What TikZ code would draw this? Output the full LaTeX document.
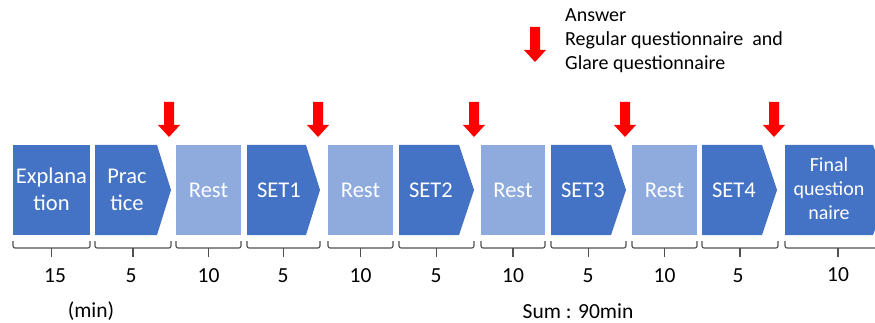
\documentclass[tikz,border=0pt]{standalone}
\usepackage{fontspec}
\setmainfont{Carlito}
\definecolor{dblue}{HTML}{4472C4}
\definecolor{lblue}{HTML}{8FAADC}
\definecolor{brk}{HTML}{505050}
\definecolor{arr}{HTML}{FF0000}
\newcommand{\chevbox}[3]{\fill[dblue] (#1,145) -- (#2,145) -- (#3,190) -- (#2,235) -- (#1,235) -- cycle;}
\newcommand{\restbox}[2]{\fill[lblue] (#1,145) rectangle (#2,235);}
\newcommand{\redarr}[2]{\fill[arr] ({#1-5},#2) -- ({#1+5},#2) -- ({#1+5},{#2+23}) -- ({#1+11},{#2+23}) -- (#1,{#2+35}) -- ({#1-11},{#2+23}) -- ({#1-5},{#2+23}) -- cycle;}
\newcommand{\brkt}[2]{\draw[bracket] (#1,241) -- (#1,248) -- (#2,248) -- (#2,241); \draw[bracket] ({(#1+#2)/2},248) -- ({(#1+#2)/2},257);}
\begin{document}
\begin{tikzpicture}[x=1pt,y=-1pt,
  boxtxt/.style={text=white,font=\fontsize{22.5}{27}\selectfont,align=center,inner sep=0pt},
  numtxt/.style={text=black,font=\fontsize{21.5}{25}\selectfont,inner sep=0pt},
  legtxt/.style={text=black,font=\fontsize{20}{24}\selectfont,align=left,inner sep=0pt,anchor=north west},
  bracket/.style={draw=brk,line width=1.1pt,rounded corners=2pt}]
\useasboundingbox (0,0) rectangle (875,323);
% boxes
\fill[dblue] (13,145) rectangle (90,235);
\chevbox{95}{157}{171}
\restbox{176}{241}
\chevbox{247}{306}{320}
\restbox{328}{393}
\chevbox{399}{459}{474}
\restbox{481}{545}
\chevbox{551}{611}{626}
\restbox{632}{697}
\chevbox{702}{762}{777}
\chevbox{785}{873}{890}
% box texts
\node[boxtxt] (expl) at (51.5,189) {Explana\\tion};
\node[boxtxt] (prac) at (127,190) {Prac\\tice};
\node[boxtxt] (rest1) at (208.5,190) {Rest};
\node[boxtxt] (set1) at (279,190) {SET1};
\node[boxtxt] (rest2) at (360.5,190) {Rest};
\node[boxtxt] (set2) at (431,190) {SET2};
\node[boxtxt] (rest3) at (513,190) {Rest};
\node[boxtxt] (set3) at (583,190) {SET3};
\node[boxtxt] (rest4) at (664.5,190) {Rest};
\node[boxtxt] (set4) at (734,190) {SET4};
\node[boxtxt,font=\fontsize{20}{24}\selectfont] (final) at (829,189) {Final\\question\\naire};
% brackets
\brkt{13}{90}
\brkt{95}{171}
\brkt{176}{241}
\brkt{247}{320}
\brkt{328}{393}
\brkt{399}{474}
\brkt{481}{545}
\brkt{551}{626}
\brkt{632}{697}
\brkt{702}{778}
\draw[bracket] (785,241) -- (785,248) -- (890,248);
\draw[bracket] (838,248) -- (838,257);
% numbers
\node[numtxt] (n1) at (55,276) {15};
\node[numtxt] (n2) at (131,276) {5};
\node[numtxt] (n3) at (208.5,276) {10};
\node[numtxt] (n4) at (283,276) {5};
\node[numtxt] (n5) at (360.5,276) {10};
\node[numtxt] (n6) at (436,276) {5};
\node[numtxt] (n7) at (513,276) {10};
\node[numtxt] (n8) at (588,276) {5};
\node[numtxt] (n9) at (664.5,276) {10};
\node[numtxt] (n10) at (738,276) {5};
\node[numtxt] (n11) at (838,275) {10};
\node[numtxt] (minlbl) at (91,311) {(min)};
\node[numtxt] (sumlbl) at (578,311) {Sum : 90min};
% red arrows
\redarr{169}{102}
\redarr{318}{102}
\redarr{474}{102}
\redarr{625}{102}
\redarr{774}{102}
\redarr{535}{27}
% legend
\node[legtxt] (leg) at (565,8) {Answer\\Regular questionnaire\ \ and\\Glare questionnaire};
\end{tikzpicture}
\end{document}
